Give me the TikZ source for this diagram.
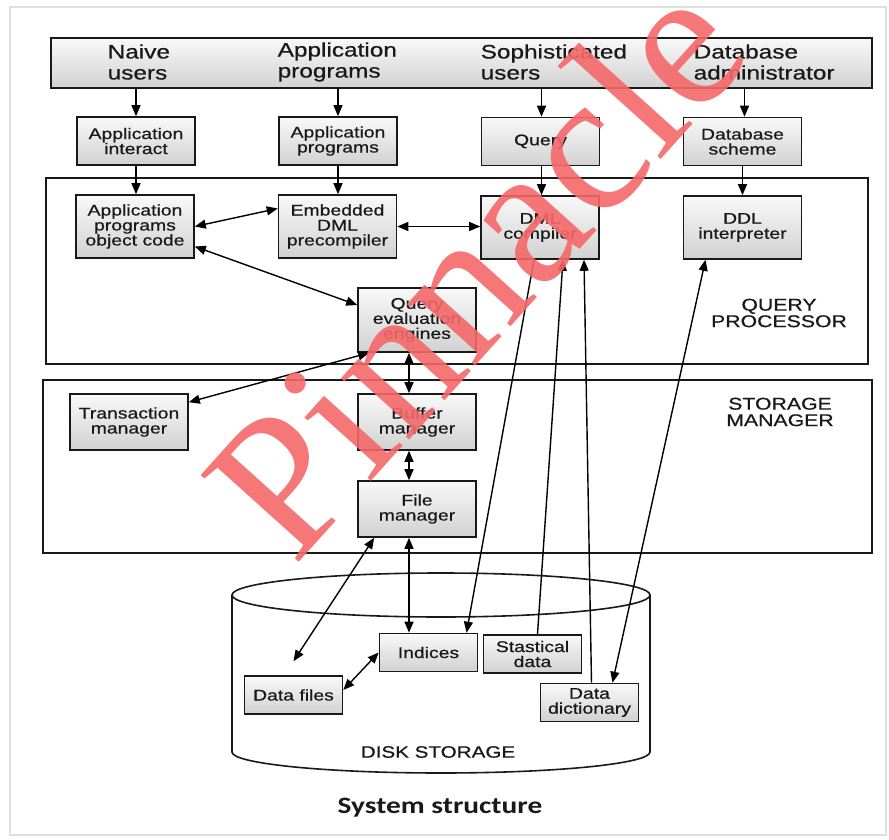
\documentclass[tikz,border=0pt]{standalone}
\usepackage{fontspec}
\setmainfont{Liberation Sans}
\newfontfamily\boxfont[FakeStretch=1.25,FakeBold=0.6]{Liberation Sans}
\newfontfamily\markfont{Liberation Serif}
\newfontfamily\capfont[FakeStretch=1.25]{Carlito}
\usetikzlibrary{arrows.meta,calc}
\definecolor{ink}{RGB}{25,25,25}
\definecolor{stamp}{RGB}{244,104,104}
\tikzset{
  unit/.style={draw=ink, line width=1.6pt, top color=gray!5, bottom color=gray!36,
    align=center, inner sep=0pt, text=ink,
    font=\boxfont\fontsize{15.5}{15}\selectfont},
  small/.style={unit, minimum width=118, minimum height=48},
  tall/.style={unit, minimum width=118, minimum height=63},
  disk/.style={unit, minimum width=98, minimum height=38},
  head/.style={align=left, inner sep=0pt, text=ink,
    font=\boxfont\fontsize{19.5}{21}\selectfont},
  frame/.style={draw=ink, line width=1.6pt, inner sep=0pt},
  tag/.style={align=center, inner sep=0pt, text=ink,
    font=\boxfont\fontsize{17}{16.5}\selectfont},
}
\begin{document}
\begin{tikzpicture}[x=1pt,y=-1pt, line width=1.4pt,
  >={Triangle[length=11pt,width=9pt]}]
\useasboundingbox (0,0) rectangle (889,840);
\draw[gray!25, line width=2.5pt] (10,7) rectangle (886,835);

% users strip
\node[unit, minimum width=821, minimum height=50] (users) at (461.5,63) {};
\node[head, anchor=west] (naive) at (107,62) {Naive\\users};
\node[head, anchor=west] (progs) at (277,62) {Application\\programs};
\node[head, anchor=west] (soph) at (480,62) {Sophisticated\\users};
\node[head, anchor=west] (dba) at (693,62) {Database\\administrator};

% outer blocks
\node[frame, minimum width=822, minimum height=186] (qp) at (457,271) {};
\node[frame, minimum width=829, minimum height=173] (sm) at (457.5,466.5) {};
\node[tag] (qptag) at (779,313) {QUERY\\PROCESSOR};
\node[tag] (smtag) at (780,412) {STORAGE\\MANAGER};

% disk storage
\draw[ink, line width=1.6pt, fill=white] (232,595) -- (232,752)
  arc[start angle=180, end angle=0, x radius=209, y radius=21] -- (650,595);
\draw[ink, line width=1.6pt] (441,595) ellipse [x radius=209, y radius=22];
\node[tag, font=\boxfont\fontsize{16.5}{16.5}\selectfont] (disktag) at (438,752) {DISK STORAGE};

% second row
\node[small] (appint) at (136,141) {Application\\interact};
\node[small] (appprog) at (338,141) {Application\\programs};
\node[small] (query) at (540.5,141.5) {Query};
\node[small] (scheme) at (742.5,141.5) {Database\\scheme};

% query processor
\node[tall] (objcode) at (135,226.5) {Application\\programs\\object code};
\node[tall] (embdml) at (337.5,226.5) {Embedded\\DML\\precompiler};
\node[tall] (dmlcomp) at (540,227.5) {DML\\compiler};
\node[tall] (ddl) at (742.5,227.5) {DDL\\interpreter};
\node[tall, minimum height=64] (qeval) at (417,320) {Query\\evaluation\\engines};

% storage manager
\node[small, minimum height=56] (trans) at (129,422) {Transaction\\manager};
\node[small, minimum height=56] (buffer) at (417,422) {Buffer\\manager};
\node[small, minimum height=56] (filemgr) at (417,509) {File\\manager};

% on disk
\node[disk] (indices) at (428.5,652.5) {Indices};
\node[disk] (stat) at (532.5,654) {Stastical\\data};
\node[disk] (datafiles) at (293.5,695) {Data files};
\node[disk] (datadict) at (589.5,702.5) {Data\\dictionary};

% arrows down from users
\draw[->] (appint.north |- users.south) -- (appint.north);
\draw[->] (appint.south) -- (appint.south |- objcode.north);
\draw[->] (appprog.north |- users.south) -- (appprog.north);
\draw[->] (appprog.south) -- (appprog.south |- embdml.north);
\draw[->] ([xshift=1pt]query.north |- users.south) -- ([xshift=1pt]query.north);
\draw[->] ([xshift=1pt]query.south) -- ([xshift=1pt]query.south |- dmlcomp.north);
\draw[->] ([xshift=2pt]scheme.north |- users.south) -- ([xshift=2pt]scheme.north);
\draw[->] (scheme.south) -- (scheme.south |- ddl.north);

% inside the processor
\draw[<->] (objcode.east) -- ([yshift=18pt]embdml.west);
\draw[<->] (embdml.east) -- (embdml.east -| dmlcomp.west);
\draw[<->] ([yshift=-20pt]objcode.east) -- ([yshift=15pt]qeval.west);
\draw[<->] ([xshift=12pt]qeval.south west) -- ([yshift=-9pt]trans.north east);
\draw[<->] ([xshift=-8pt]qeval.south) -- ([xshift=-8pt]buffer.north);
\draw[<->] ([xshift=-8pt]buffer.south) -- ([xshift=-8pt]filemgr.north);

% to the disk
\draw[<->] ([xshift=17pt]filemgr.south west) -- ([yshift=14pt]datafiles.north);
\draw[<->] ([xshift=-8pt]filemgr.south) -- ([xshift=-8pt]filemgr.south |- indices.north);
\draw[<->] ([yshift=5pt]datafiles.east) -- (indices.west);
\draw[->] ([xshift=-6pt]dmlcomp.south) -- ([xshift=38pt]indices.north);
\draw[->] ([xshift=5pt]stat.north) -- ([xshift=23pt]dmlcomp.south);
\draw[->] ([xshift=2pt]datadict.north) -- ([xshift=44pt]dmlcomp.south);
\draw[<->] ([xshift=-37pt]ddl.south) -- ([xshift=23pt]datadict.north);

\node[text=ink, inner sep=0pt, font=\capfont\bfseries\fontsize{23.5}{23.5}\selectfont] (caption) at (440,808) {System structure};

% watermark
\node[anchor=base west, rotate=48, inner sep=0pt, text=stamp, text opacity=0.9,
  font=\markfont\fontsize{200}{200}\selectfont] (pinnacle) at (294,568) {Pinnacle};
\end{tikzpicture}
\end{document}
